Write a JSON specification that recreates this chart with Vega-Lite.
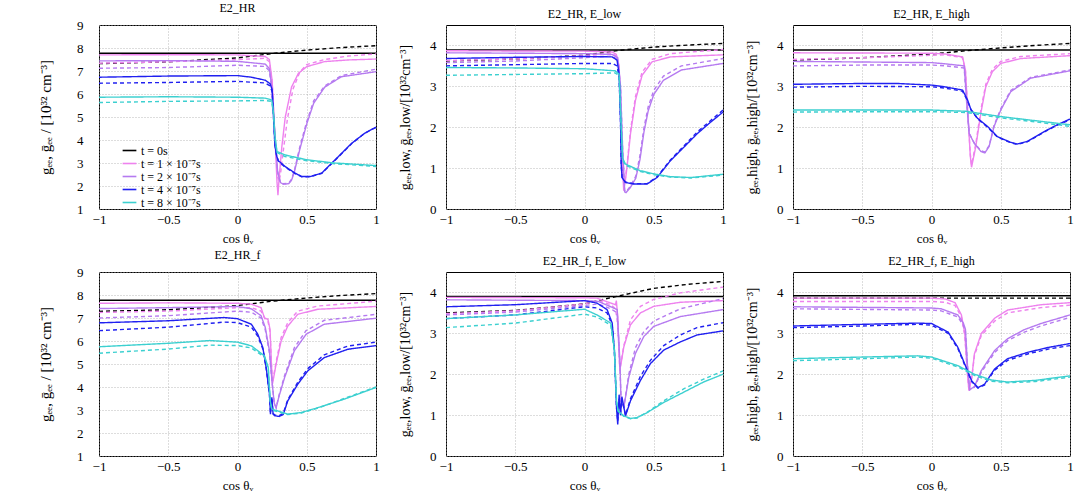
{
"$schema":"https://vega.github.io/schema/vega-lite/v6.json",
"padding":{"left":38,"top":1,"right":5,"bottom":2},
"config":{
"font":"Liberation Serif",
"view":{"stroke":"black","strokeWidth":1},
"axis":{"domain":false,"ticks":false,"grid":true,"labelFlush":false,"gridColor":"#aaaaaa","gridDash":[1,2],"gridWidth":0.8,"labelFont":"Liberation Serif","labelFontSize":13,"labelColor":"black","titleFont":"Liberation Serif","titleFontSize":14,"titleFontWeight":"normal","titleColor":"black"},
"axisX":{"labelPadding":4,"titlePadding":6,"titleFontSize":13},
"title":{"font":"Liberation Serif","fontSize":12,"fontWeight":"normal","offset":4,"color":"black"}
},
"data":{"values":[
{"p":1,"s":0,"k":"g","x":-1,"y":7.77},{"p":1,"s":0,"k":"g","x":1,"y":7.77},
{"p":1,"s":0,"k":"b","x":-1,"y":7.32},{"p":1,"s":0,"k":"b","x":-0.5,"y":7.4},{"p":1,"s":0,"k":"b","x":0,"y":7.57},{"p":1,"s":0,"k":"b","x":0.25,"y":7.76},{"p":1,"s":0,"k":"b","x":0.5,"y":7.91},{"p":1,"s":0,"k":"b","x":0.75,"y":8.02},{"p":1,"s":0,"k":"b","x":1,"y":8.1},
{"p":1,"s":1,"k":"g","x":-1,"y":7.7},{"p":1,"s":1,"k":"g","x":-0.5,"y":7.71},{"p":1,"s":1,"k":"g","x":0,"y":7.7},{"p":1,"s":1,"k":"g","x":0.2,"y":7.63},{"p":1,"s":1,"k":"g","x":0.23,"y":7.5},{"p":1,"s":1,"k":"g","x":0.25,"y":6.6},{"p":1,"s":1,"k":"g","x":0.27,"y":4.2},{"p":1,"s":1,"k":"g","x":0.285,"y":2.2},{"p":1,"s":1,"k":"g","x":0.292,"y":1.6},{"p":1,"s":1,"k":"g","x":0.3,"y":2.3},{"p":1,"s":1,"k":"g","x":0.32,"y":3.7},{"p":1,"s":1,"k":"g","x":0.345,"y":5.0},{"p":1,"s":1,"k":"g","x":0.39,"y":6.3},{"p":1,"s":1,"k":"g","x":0.44,"y":6.9},{"p":1,"s":1,"k":"g","x":0.5,"y":7.19},{"p":1,"s":1,"k":"g","x":0.63,"y":7.41},{"p":1,"s":1,"k":"g","x":0.8,"y":7.48},{"p":1,"s":1,"k":"g","x":1,"y":7.52},
{"p":1,"s":1,"k":"b","x":-1,"y":7.34},{"p":1,"s":1,"k":"b","x":-0.5,"y":7.4},{"p":1,"s":1,"k":"b","x":0,"y":7.5},{"p":1,"s":1,"k":"b","x":0.2,"y":7.55},{"p":1,"s":1,"k":"b","x":0.23,"y":7.4},{"p":1,"s":1,"k":"b","x":0.25,"y":6.5},{"p":1,"s":1,"k":"b","x":0.27,"y":4.2},{"p":1,"s":1,"k":"b","x":0.29,"y":2.4},{"p":1,"s":1,"k":"b","x":0.3,"y":2.2},{"p":1,"s":1,"k":"b","x":0.31,"y":2.5},{"p":1,"s":1,"k":"b","x":0.33,"y":3.5},{"p":1,"s":1,"k":"b","x":0.36,"y":4.9},{"p":1,"s":1,"k":"b","x":0.4,"y":6.2},{"p":1,"s":1,"k":"b","x":0.45,"y":6.95},{"p":1,"s":1,"k":"b","x":0.5,"y":7.28},{"p":1,"s":1,"k":"b","x":0.63,"y":7.5},{"p":1,"s":1,"k":"b","x":0.8,"y":7.65},{"p":1,"s":1,"k":"b","x":1,"y":7.74},
{"p":1,"s":2,"k":"g","x":-1,"y":7.44},{"p":1,"s":2,"k":"g","x":-0.5,"y":7.45},{"p":1,"s":2,"k":"g","x":0,"y":7.42},{"p":1,"s":2,"k":"g","x":0.2,"y":7.3},{"p":1,"s":2,"k":"g","x":0.23,"y":7.1},{"p":1,"s":2,"k":"g","x":0.25,"y":6.2},{"p":1,"s":2,"k":"g","x":0.27,"y":4.2},{"p":1,"s":2,"k":"g","x":0.29,"y":2.6},{"p":1,"s":2,"k":"g","x":0.31,"y":2.15},{"p":1,"s":2,"k":"g","x":0.33,"y":2.08},{"p":1,"s":2,"k":"g","x":0.37,"y":2.1},{"p":1,"s":2,"k":"g","x":0.39,"y":2.25},{"p":1,"s":2,"k":"g","x":0.41,"y":2.6},{"p":1,"s":2,"k":"g","x":0.45,"y":3.6},{"p":1,"s":2,"k":"g","x":0.5,"y":4.7},{"p":1,"s":2,"k":"g","x":0.55,"y":5.6},{"p":1,"s":2,"k":"g","x":0.63,"y":6.3},{"p":1,"s":2,"k":"g","x":0.75,"y":6.75},{"p":1,"s":2,"k":"g","x":1,"y":6.97},
{"p":1,"s":2,"k":"b","x":-1,"y":7.12},{"p":1,"s":2,"k":"b","x":-0.5,"y":7.15},{"p":1,"s":2,"k":"b","x":0,"y":7.25},{"p":1,"s":2,"k":"b","x":0.2,"y":7.2},{"p":1,"s":2,"k":"b","x":0.23,"y":7.0},{"p":1,"s":2,"k":"b","x":0.25,"y":6.1},{"p":1,"s":2,"k":"b","x":0.27,"y":4.1},{"p":1,"s":2,"k":"b","x":0.29,"y":2.6},{"p":1,"s":2,"k":"b","x":0.31,"y":2.15},{"p":1,"s":2,"k":"b","x":0.33,"y":2.1},{"p":1,"s":2,"k":"b","x":0.37,"y":2.12},{"p":1,"s":2,"k":"b","x":0.39,"y":2.3},{"p":1,"s":2,"k":"b","x":0.41,"y":2.65},{"p":1,"s":2,"k":"b","x":0.45,"y":3.7},{"p":1,"s":2,"k":"b","x":0.5,"y":4.8},{"p":1,"s":2,"k":"b","x":0.55,"y":5.7},{"p":1,"s":2,"k":"b","x":0.63,"y":6.35},{"p":1,"s":2,"k":"b","x":0.75,"y":6.8},{"p":1,"s":2,"k":"b","x":1,"y":7.08},
{"p":1,"s":4,"k":"g","x":-1,"y":6.73},{"p":1,"s":4,"k":"g","x":-0.5,"y":6.78},{"p":1,"s":4,"k":"g","x":0,"y":6.8},{"p":1,"s":4,"k":"g","x":0.1,"y":6.73},{"p":1,"s":4,"k":"g","x":0.2,"y":6.6},{"p":1,"s":4,"k":"g","x":0.235,"y":6.45},{"p":1,"s":4,"k":"g","x":0.25,"y":6.2},{"p":1,"s":4,"k":"g","x":0.26,"y":5.0},{"p":1,"s":4,"k":"g","x":0.27,"y":3.8},{"p":1,"s":4,"k":"g","x":0.283,"y":3.3},{"p":1,"s":4,"k":"g","x":0.295,"y":3.1},{"p":1,"s":4,"k":"g","x":0.343,"y":2.85},{"p":1,"s":4,"k":"g","x":0.416,"y":2.56},{"p":1,"s":4,"k":"g","x":0.464,"y":2.41},{"p":1,"s":4,"k":"g","x":0.524,"y":2.41},{"p":1,"s":4,"k":"g","x":0.608,"y":2.56},{"p":1,"s":4,"k":"g","x":0.705,"y":3.14},{"p":1,"s":4,"k":"g","x":0.825,"y":3.86},{"p":1,"s":4,"k":"g","x":0.92,"y":4.3},{"p":1,"s":4,"k":"g","x":1,"y":4.56},
{"p":1,"s":4,"k":"b","x":-1,"y":6.47},{"p":1,"s":4,"k":"b","x":-0.5,"y":6.5},{"p":1,"s":4,"k":"b","x":0,"y":6.55},{"p":1,"s":4,"k":"b","x":0.2,"y":6.48},{"p":1,"s":4,"k":"b","x":0.235,"y":6.35},{"p":1,"s":4,"k":"b","x":0.25,"y":6.1},{"p":1,"s":4,"k":"b","x":0.26,"y":5.0},{"p":1,"s":4,"k":"b","x":0.27,"y":3.8},{"p":1,"s":4,"k":"b","x":0.283,"y":3.3},{"p":1,"s":4,"k":"b","x":0.295,"y":3.08},{"p":1,"s":4,"k":"b","x":0.343,"y":2.82},{"p":1,"s":4,"k":"b","x":0.416,"y":2.54},{"p":1,"s":4,"k":"b","x":0.464,"y":2.4},{"p":1,"s":4,"k":"b","x":0.524,"y":2.4},{"p":1,"s":4,"k":"b","x":0.608,"y":2.55},{"p":1,"s":4,"k":"b","x":0.705,"y":3.12},{"p":1,"s":4,"k":"b","x":0.825,"y":3.85},{"p":1,"s":4,"k":"b","x":0.92,"y":4.3},{"p":1,"s":4,"k":"b","x":1,"y":4.55},
{"p":1,"s":8,"k":"g","x":-1,"y":5.86},{"p":1,"s":8,"k":"g","x":-0.5,"y":5.88},{"p":1,"s":8,"k":"g","x":0,"y":5.86},{"p":1,"s":8,"k":"g","x":0.2,"y":5.82},{"p":1,"s":8,"k":"g","x":0.247,"y":5.74},{"p":1,"s":8,"k":"g","x":0.26,"y":5.2},{"p":1,"s":8,"k":"g","x":0.27,"y":4.2},{"p":1,"s":8,"k":"g","x":0.285,"y":3.5},{"p":1,"s":8,"k":"g","x":0.343,"y":3.35},{"p":1,"s":8,"k":"g","x":0.5,"y":3.14},{"p":1,"s":8,"k":"g","x":0.7,"y":3.0},{"p":1,"s":8,"k":"g","x":1,"y":2.89},
{"p":1,"s":8,"k":"b","x":-1,"y":5.63},{"p":1,"s":8,"k":"b","x":-0.5,"y":5.68},{"p":1,"s":8,"k":"b","x":0,"y":5.7},{"p":1,"s":8,"k":"b","x":0.2,"y":5.72},{"p":1,"s":8,"k":"b","x":0.247,"y":5.68},{"p":1,"s":8,"k":"b","x":0.26,"y":5.1},{"p":1,"s":8,"k":"b","x":0.27,"y":4.1},{"p":1,"s":8,"k":"b","x":0.285,"y":3.45},{"p":1,"s":8,"k":"b","x":0.343,"y":3.28},{"p":1,"s":8,"k":"b","x":0.5,"y":3.1},{"p":1,"s":8,"k":"b","x":0.7,"y":2.97},{"p":1,"s":8,"k":"b","x":1,"y":2.85},

{"p":2,"s":0,"k":"g","x":-1,"y":3.89},{"p":2,"s":0,"k":"g","x":1,"y":3.89},
{"p":2,"s":0,"k":"b","x":-1,"y":3.62},{"p":2,"s":0,"k":"b","x":-0.5,"y":3.67},{"p":2,"s":0,"k":"b","x":0,"y":3.76},{"p":2,"s":0,"k":"b","x":0.25,"y":3.88},{"p":2,"s":0,"k":"b","x":0.5,"y":3.96},{"p":2,"s":0,"k":"b","x":0.75,"y":4.01},{"p":2,"s":0,"k":"b","x":1,"y":4.05},
{"p":2,"s":1,"k":"g","x":-1,"y":3.87},{"p":2,"s":1,"k":"g","x":0,"y":3.86},{"p":2,"s":1,"k":"g","x":0.2,"y":3.84},{"p":2,"s":1,"k":"g","x":0.23,"y":3.78},{"p":2,"s":1,"k":"g","x":0.25,"y":3.5},{"p":2,"s":1,"k":"g","x":0.265,"y":2.0},{"p":2,"s":1,"k":"g","x":0.278,"y":0.8},{"p":2,"s":1,"k":"g","x":0.283,"y":0.45},{"p":2,"s":1,"k":"g","x":0.295,"y":0.7},{"p":2,"s":1,"k":"g","x":0.307,"y":1.02},{"p":2,"s":1,"k":"g","x":0.332,"y":1.84},{"p":2,"s":1,"k":"g","x":0.368,"y":2.66},{"p":2,"s":1,"k":"g","x":0.416,"y":3.27},{"p":2,"s":1,"k":"g","x":0.488,"y":3.6},{"p":2,"s":1,"k":"g","x":0.62,"y":3.72},{"p":2,"s":1,"k":"g","x":1,"y":3.77},
{"p":2,"s":1,"k":"b","x":-1,"y":3.63},{"p":2,"s":1,"k":"b","x":-0.5,"y":3.67},{"p":2,"s":1,"k":"b","x":0,"y":3.75},{"p":2,"s":1,"k":"b","x":0.2,"y":3.8},{"p":2,"s":1,"k":"b","x":0.23,"y":3.74},{"p":2,"s":1,"k":"b","x":0.25,"y":3.45},{"p":2,"s":1,"k":"b","x":0.265,"y":2.0},{"p":2,"s":1,"k":"b","x":0.278,"y":0.85},{"p":2,"s":1,"k":"b","x":0.285,"y":0.55},{"p":2,"s":1,"k":"b","x":0.295,"y":0.75},{"p":2,"s":1,"k":"b","x":0.307,"y":1.08},{"p":2,"s":1,"k":"b","x":0.332,"y":1.92},{"p":2,"s":1,"k":"b","x":0.368,"y":2.75},{"p":2,"s":1,"k":"b","x":0.416,"y":3.35},{"p":2,"s":1,"k":"b","x":0.488,"y":3.66},{"p":2,"s":1,"k":"b","x":0.62,"y":3.8},{"p":2,"s":1,"k":"b","x":1,"y":3.9},
{"p":2,"s":2,"k":"g","x":-1,"y":3.82},{"p":2,"s":2,"k":"g","x":0,"y":3.8},{"p":2,"s":2,"k":"g","x":0.2,"y":3.78},{"p":2,"s":2,"k":"g","x":0.24,"y":3.7},{"p":2,"s":2,"k":"g","x":0.26,"y":3.0},{"p":2,"s":2,"k":"g","x":0.275,"y":1.5},{"p":2,"s":2,"k":"g","x":0.29,"y":0.42},{"p":2,"s":2,"k":"g","x":0.3,"y":0.4},{"p":2,"s":2,"k":"g","x":0.33,"y":0.52},{"p":2,"s":2,"k":"g","x":0.37,"y":0.75},{"p":2,"s":2,"k":"g","x":0.4,"y":1.2},{"p":2,"s":2,"k":"g","x":0.43,"y":1.9},{"p":2,"s":2,"k":"g","x":0.46,"y":2.4},{"p":2,"s":2,"k":"g","x":0.5,"y":2.8},{"p":2,"s":2,"k":"g","x":0.57,"y":3.15},{"p":2,"s":2,"k":"g","x":0.7,"y":3.4},{"p":2,"s":2,"k":"g","x":1,"y":3.56},
{"p":2,"s":2,"k":"b","x":-1,"y":3.58},{"p":2,"s":2,"k":"b","x":-0.5,"y":3.62},{"p":2,"s":2,"k":"b","x":0,"y":3.7},{"p":2,"s":2,"k":"b","x":0.2,"y":3.74},{"p":2,"s":2,"k":"b","x":0.24,"y":3.65},{"p":2,"s":2,"k":"b","x":0.26,"y":3.0},{"p":2,"s":2,"k":"b","x":0.275,"y":1.5},{"p":2,"s":2,"k":"b","x":0.29,"y":0.45},{"p":2,"s":2,"k":"b","x":0.3,"y":0.42},{"p":2,"s":2,"k":"b","x":0.33,"y":0.55},{"p":2,"s":2,"k":"b","x":0.37,"y":0.8},{"p":2,"s":2,"k":"b","x":0.4,"y":1.3},{"p":2,"s":2,"k":"b","x":0.43,"y":2.0},{"p":2,"s":2,"k":"b","x":0.46,"y":2.5},{"p":2,"s":2,"k":"b","x":0.5,"y":2.9},{"p":2,"s":2,"k":"b","x":0.57,"y":3.25},{"p":2,"s":2,"k":"b","x":0.7,"y":3.5},{"p":2,"s":2,"k":"b","x":1,"y":3.68},
{"p":2,"s":4,"k":"g","x":-1,"y":3.68},{"p":2,"s":4,"k":"g","x":-0.5,"y":3.71},{"p":2,"s":4,"k":"g","x":0,"y":3.73},{"p":2,"s":4,"k":"g","x":0.2,"y":3.72},{"p":2,"s":4,"k":"g","x":0.235,"y":3.64},{"p":2,"s":4,"k":"g","x":0.25,"y":3.3},{"p":2,"s":4,"k":"g","x":0.26,"y":2.17},{"p":2,"s":4,"k":"g","x":0.265,"y":1.1},{"p":2,"s":4,"k":"g","x":0.271,"y":0.77},{"p":2,"s":4,"k":"g","x":0.295,"y":0.65},{"p":2,"s":4,"k":"g","x":0.356,"y":0.61},{"p":2,"s":4,"k":"g","x":0.452,"y":0.61},{"p":2,"s":4,"k":"g","x":0.524,"y":0.77},{"p":2,"s":4,"k":"g","x":0.62,"y":1.18},{"p":2,"s":4,"k":"g","x":0.717,"y":1.51},{"p":2,"s":4,"k":"g","x":0.813,"y":1.84},{"p":2,"s":4,"k":"g","x":0.909,"y":2.12},{"p":2,"s":4,"k":"g","x":1,"y":2.37},
{"p":2,"s":4,"k":"b","x":-1,"y":3.5},{"p":2,"s":4,"k":"b","x":-0.5,"y":3.53},{"p":2,"s":4,"k":"b","x":0,"y":3.56},{"p":2,"s":4,"k":"b","x":0.2,"y":3.56},{"p":2,"s":4,"k":"b","x":0.235,"y":3.5},{"p":2,"s":4,"k":"b","x":0.25,"y":3.2},{"p":2,"s":4,"k":"b","x":0.26,"y":2.15},{"p":2,"s":4,"k":"b","x":0.265,"y":1.1},{"p":2,"s":4,"k":"b","x":0.271,"y":0.78},{"p":2,"s":4,"k":"b","x":0.295,"y":0.66},{"p":2,"s":4,"k":"b","x":0.356,"y":0.62},{"p":2,"s":4,"k":"b","x":0.452,"y":0.62},{"p":2,"s":4,"k":"b","x":0.524,"y":0.79},{"p":2,"s":4,"k":"b","x":0.62,"y":1.2},{"p":2,"s":4,"k":"b","x":0.717,"y":1.54},{"p":2,"s":4,"k":"b","x":0.813,"y":1.88},{"p":2,"s":4,"k":"b","x":0.909,"y":2.16},{"p":2,"s":4,"k":"b","x":1,"y":2.42},
{"p":2,"s":8,"k":"g","x":-1,"y":3.46},{"p":2,"s":8,"k":"g","x":-0.5,"y":3.45},{"p":2,"s":8,"k":"g","x":0,"y":3.43},{"p":2,"s":8,"k":"g","x":0.22,"y":3.38},{"p":2,"s":8,"k":"g","x":0.25,"y":3.3},{"p":2,"s":8,"k":"g","x":0.265,"y":2.0},{"p":2,"s":8,"k":"g","x":0.275,"y":1.25},{"p":2,"s":8,"k":"g","x":0.295,"y":1.1},{"p":2,"s":8,"k":"g","x":0.4,"y":0.94},{"p":2,"s":8,"k":"g","x":0.5,"y":0.86},{"p":2,"s":8,"k":"g","x":0.62,"y":0.79},{"p":2,"s":8,"k":"g","x":0.77,"y":0.77},{"p":2,"s":8,"k":"g","x":1,"y":0.85},
{"p":2,"s":8,"k":"b","x":-1,"y":3.27},{"p":2,"s":8,"k":"b","x":-0.5,"y":3.29},{"p":2,"s":8,"k":"b","x":0,"y":3.31},{"p":2,"s":8,"k":"b","x":0.22,"y":3.33},{"p":2,"s":8,"k":"b","x":0.25,"y":3.26},{"p":2,"s":8,"k":"b","x":0.265,"y":2.0},{"p":2,"s":8,"k":"b","x":0.275,"y":1.2},{"p":2,"s":8,"k":"b","x":0.295,"y":1.07},{"p":2,"s":8,"k":"b","x":0.4,"y":0.92},{"p":2,"s":8,"k":"b","x":0.5,"y":0.84},{"p":2,"s":8,"k":"b","x":0.62,"y":0.78},{"p":2,"s":8,"k":"b","x":0.77,"y":0.76},{"p":2,"s":8,"k":"b","x":1,"y":0.83},

{"p":3,"s":0,"k":"g","x":-1,"y":3.89},{"p":3,"s":0,"k":"g","x":1,"y":3.89},
{"p":3,"s":0,"k":"b","x":-1,"y":3.64},{"p":3,"s":0,"k":"b","x":-0.5,"y":3.7},{"p":3,"s":0,"k":"b","x":0,"y":3.79},{"p":3,"s":0,"k":"b","x":0.25,"y":3.87},{"p":3,"s":0,"k":"b","x":0.5,"y":3.94},{"p":3,"s":0,"k":"b","x":0.75,"y":4.0},{"p":3,"s":0,"k":"b","x":1,"y":4.05},
{"p":3,"s":1,"k":"g","x":-1,"y":3.82},{"p":3,"s":1,"k":"g","x":0,"y":3.81},{"p":3,"s":1,"k":"g","x":0.1,"y":3.79},{"p":3,"s":1,"k":"g","x":0.224,"y":3.72},{"p":3,"s":1,"k":"g","x":0.245,"y":3.4},{"p":3,"s":1,"k":"g","x":0.265,"y":2.2},{"p":3,"s":1,"k":"g","x":0.28,"y":1.3},{"p":3,"s":1,"k":"g","x":0.289,"y":1.02},{"p":3,"s":1,"k":"g","x":0.32,"y":1.53},{"p":3,"s":1,"k":"g","x":0.356,"y":2.34},{"p":3,"s":1,"k":"g","x":0.392,"y":2.99},{"p":3,"s":1,"k":"g","x":0.44,"y":3.36},{"p":3,"s":1,"k":"g","x":0.5,"y":3.56},{"p":3,"s":1,"k":"g","x":0.644,"y":3.68},{"p":3,"s":1,"k":"g","x":1,"y":3.75},
{"p":3,"s":1,"k":"b","x":-1,"y":3.66},{"p":3,"s":1,"k":"b","x":-0.5,"y":3.7},{"p":3,"s":1,"k":"b","x":0,"y":3.76},{"p":3,"s":1,"k":"b","x":0.1,"y":3.77},{"p":3,"s":1,"k":"b","x":0.224,"y":3.7},{"p":3,"s":1,"k":"b","x":0.245,"y":3.38},{"p":3,"s":1,"k":"b","x":0.265,"y":2.2},{"p":3,"s":1,"k":"b","x":0.28,"y":1.35},{"p":3,"s":1,"k":"b","x":0.289,"y":1.08},{"p":3,"s":1,"k":"b","x":0.32,"y":1.6},{"p":3,"s":1,"k":"b","x":0.356,"y":2.42},{"p":3,"s":1,"k":"b","x":0.392,"y":3.05},{"p":3,"s":1,"k":"b","x":0.44,"y":3.42},{"p":3,"s":1,"k":"b","x":0.5,"y":3.61},{"p":3,"s":1,"k":"b","x":0.644,"y":3.73},{"p":3,"s":1,"k":"b","x":1,"y":3.8},
{"p":3,"s":2,"k":"g","x":-1,"y":3.61},{"p":3,"s":2,"k":"g","x":0,"y":3.58},{"p":3,"s":2,"k":"g","x":0.1,"y":3.55},{"p":3,"s":2,"k":"g","x":0.236,"y":3.5},{"p":3,"s":2,"k":"g","x":0.255,"y":2.59},{"p":3,"s":2,"k":"g","x":0.272,"y":1.85},{"p":3,"s":2,"k":"g","x":0.308,"y":1.61},{"p":3,"s":2,"k":"g","x":0.356,"y":1.41},{"p":3,"s":2,"k":"g","x":0.385,"y":1.37},{"p":3,"s":2,"k":"g","x":0.416,"y":1.53},{"p":3,"s":2,"k":"g","x":0.452,"y":2.02},{"p":3,"s":2,"k":"g","x":0.5,"y":2.42},{"p":3,"s":2,"k":"g","x":0.572,"y":2.87},{"p":3,"s":2,"k":"g","x":0.716,"y":3.2},{"p":3,"s":2,"k":"g","x":1,"y":3.38},
{"p":3,"s":2,"k":"b","x":-1,"y":3.5},{"p":3,"s":2,"k":"b","x":-0.5,"y":3.52},{"p":3,"s":2,"k":"b","x":0,"y":3.52},{"p":3,"s":2,"k":"b","x":0.1,"y":3.5},{"p":3,"s":2,"k":"b","x":0.236,"y":3.45},{"p":3,"s":2,"k":"b","x":0.255,"y":2.55},{"p":3,"s":2,"k":"b","x":0.272,"y":1.85},{"p":3,"s":2,"k":"b","x":0.308,"y":1.62},{"p":3,"s":2,"k":"b","x":0.356,"y":1.43},{"p":3,"s":2,"k":"b","x":0.385,"y":1.39},{"p":3,"s":2,"k":"b","x":0.416,"y":1.55},{"p":3,"s":2,"k":"b","x":0.452,"y":2.05},{"p":3,"s":2,"k":"b","x":0.5,"y":2.45},{"p":3,"s":2,"k":"b","x":0.572,"y":2.9},{"p":3,"s":2,"k":"b","x":0.716,"y":3.22},{"p":3,"s":2,"k":"b","x":1,"y":3.4},
{"p":3,"s":4,"k":"g","x":-1,"y":3.05},{"p":3,"s":4,"k":"g","x":-0.5,"y":3.07},{"p":3,"s":4,"k":"g","x":-0.25,"y":3.07},{"p":3,"s":4,"k":"g","x":0,"y":3.03},{"p":3,"s":4,"k":"g","x":0.092,"y":2.99},{"p":3,"s":4,"k":"g","x":0.224,"y":2.91},{"p":3,"s":4,"k":"g","x":0.26,"y":2.67},{"p":3,"s":4,"k":"g","x":0.284,"y":2.44},{"p":3,"s":4,"k":"g","x":0.332,"y":2.22},{"p":3,"s":4,"k":"g","x":0.404,"y":2.02},{"p":3,"s":4,"k":"g","x":0.476,"y":1.77},{"p":3,"s":4,"k":"g","x":0.572,"y":1.63},{"p":3,"s":4,"k":"g","x":0.62,"y":1.59},{"p":3,"s":4,"k":"g","x":0.69,"y":1.65},{"p":3,"s":4,"k":"g","x":0.812,"y":1.89},{"p":3,"s":4,"k":"g","x":0.908,"y":2.06},{"p":3,"s":4,"k":"g","x":1,"y":2.2},
{"p":3,"s":4,"k":"b","x":-1,"y":2.98},{"p":3,"s":4,"k":"b","x":-0.5,"y":3.0},{"p":3,"s":4,"k":"b","x":0,"y":2.99},{"p":3,"s":4,"k":"b","x":0.092,"y":2.96},{"p":3,"s":4,"k":"b","x":0.224,"y":2.88},{"p":3,"s":4,"k":"b","x":0.26,"y":2.65},{"p":3,"s":4,"k":"b","x":0.284,"y":2.43},{"p":3,"s":4,"k":"b","x":0.332,"y":2.21},{"p":3,"s":4,"k":"b","x":0.404,"y":2.0},{"p":3,"s":4,"k":"b","x":0.476,"y":1.76},{"p":3,"s":4,"k":"b","x":0.572,"y":1.62},{"p":3,"s":4,"k":"b","x":0.62,"y":1.58},{"p":3,"s":4,"k":"b","x":0.69,"y":1.64},{"p":3,"s":4,"k":"b","x":0.812,"y":1.88},{"p":3,"s":4,"k":"b","x":0.908,"y":2.05},{"p":3,"s":4,"k":"b","x":1,"y":2.18},
{"p":3,"s":8,"k":"g","x":-1,"y":2.42},{"p":3,"s":8,"k":"g","x":-0.5,"y":2.42},{"p":3,"s":8,"k":"g","x":0,"y":2.42},{"p":3,"s":8,"k":"g","x":0.25,"y":2.39},{"p":3,"s":8,"k":"g","x":0.5,"y":2.26},{"p":3,"s":8,"k":"g","x":0.75,"y":2.16},{"p":3,"s":8,"k":"g","x":1,"y":2.06},
{"p":3,"s":8,"k":"b","x":-1,"y":2.37},{"p":3,"s":8,"k":"b","x":-0.5,"y":2.38},{"p":3,"s":8,"k":"b","x":0,"y":2.38},{"p":3,"s":8,"k":"b","x":0.25,"y":2.36},{"p":3,"s":8,"k":"b","x":0.5,"y":2.23},{"p":3,"s":8,"k":"b","x":0.75,"y":2.13},{"p":3,"s":8,"k":"b","x":1,"y":2.02},

{"p":4,"s":0,"k":"g","x":-1,"y":7.77},{"p":4,"s":0,"k":"g","x":1,"y":7.77},
{"p":4,"s":0,"k":"b","x":-1,"y":7.29},{"p":4,"s":0,"k":"b","x":-0.5,"y":7.36},{"p":4,"s":0,"k":"b","x":0,"y":7.54},{"p":4,"s":0,"k":"b","x":0.25,"y":7.73},{"p":4,"s":0,"k":"b","x":0.5,"y":7.87},{"p":4,"s":0,"k":"b","x":0.75,"y":7.98},{"p":4,"s":0,"k":"b","x":1,"y":8.06},
{"p":4,"s":1,"k":"g","x":-1,"y":7.64},{"p":4,"s":1,"k":"g","x":-0.5,"y":7.66},{"p":4,"s":1,"k":"g","x":0,"y":7.64},{"p":4,"s":1,"k":"g","x":0.1,"y":7.6},{"p":4,"s":1,"k":"g","x":0.17,"y":7.45},{"p":4,"s":1,"k":"g","x":0.195,"y":7.0},{"p":4,"s":1,"k":"g","x":0.22,"y":6.94},{"p":4,"s":1,"k":"g","x":0.235,"y":6.5},{"p":4,"s":1,"k":"g","x":0.245,"y":5.0},{"p":4,"s":1,"k":"g","x":0.252,"y":4.12},{"p":4,"s":1,"k":"g","x":0.279,"y":5.0},{"p":4,"s":1,"k":"g","x":0.315,"y":6.0},{"p":4,"s":1,"k":"g","x":0.363,"y":6.65},{"p":4,"s":1,"k":"g","x":0.435,"y":7.16},{"p":4,"s":1,"k":"g","x":0.58,"y":7.38},{"p":4,"s":1,"k":"g","x":1,"y":7.5},
{"p":4,"s":1,"k":"b","x":-1,"y":7.24},{"p":4,"s":1,"k":"b","x":-0.5,"y":7.3},{"p":4,"s":1,"k":"b","x":0,"y":7.45},{"p":4,"s":1,"k":"b","x":0.1,"y":7.45},{"p":4,"s":1,"k":"b","x":0.17,"y":7.3},{"p":4,"s":1,"k":"b","x":0.2,"y":6.95},{"p":4,"s":1,"k":"b","x":0.22,"y":6.85},{"p":4,"s":1,"k":"b","x":0.235,"y":6.4},{"p":4,"s":1,"k":"b","x":0.245,"y":5.0},{"p":4,"s":1,"k":"b","x":0.253,"y":4.2},{"p":4,"s":1,"k":"b","x":0.279,"y":5.1},{"p":4,"s":1,"k":"b","x":0.315,"y":6.15},{"p":4,"s":1,"k":"b","x":0.363,"y":6.8},{"p":4,"s":1,"k":"b","x":0.435,"y":7.3},{"p":4,"s":1,"k":"b","x":0.58,"y":7.52},{"p":4,"s":1,"k":"b","x":1,"y":7.73},
{"p":4,"s":2,"k":"g","x":-1,"y":7.41},{"p":4,"s":2,"k":"g","x":-0.5,"y":7.45},{"p":4,"s":2,"k":"g","x":0,"y":7.5},{"p":4,"s":2,"k":"g","x":0.1,"y":7.4},{"p":4,"s":2,"k":"g","x":0.17,"y":7.1},{"p":4,"s":2,"k":"g","x":0.2,"y":6.6},{"p":4,"s":2,"k":"g","x":0.23,"y":5.6},{"p":4,"s":2,"k":"g","x":0.25,"y":4.2},{"p":4,"s":2,"k":"g","x":0.265,"y":3.3},{"p":4,"s":2,"k":"g","x":0.279,"y":3.1},{"p":4,"s":2,"k":"g","x":0.3,"y":3.6},{"p":4,"s":2,"k":"g","x":0.34,"y":4.41},{"p":4,"s":2,"k":"g","x":0.41,"y":5.57},{"p":4,"s":2,"k":"g","x":0.495,"y":6.29},{"p":4,"s":2,"k":"g","x":0.627,"y":6.73},{"p":4,"s":2,"k":"g","x":1,"y":6.99},
{"p":4,"s":2,"k":"b","x":-1,"y":7.0},{"p":4,"s":2,"k":"b","x":-0.5,"y":7.1},{"p":4,"s":2,"k":"b","x":0,"y":7.3},{"p":4,"s":2,"k":"b","x":0.1,"y":7.25},{"p":4,"s":2,"k":"b","x":0.17,"y":7.0},{"p":4,"s":2,"k":"b","x":0.2,"y":6.5},{"p":4,"s":2,"k":"b","x":0.23,"y":5.5},{"p":4,"s":2,"k":"b","x":0.25,"y":4.2},{"p":4,"s":2,"k":"b","x":0.265,"y":3.3},{"p":4,"s":2,"k":"b","x":0.279,"y":3.1},{"p":4,"s":2,"k":"b","x":0.3,"y":3.65},{"p":4,"s":2,"k":"b","x":0.34,"y":4.5},{"p":4,"s":2,"k":"b","x":0.41,"y":5.7},{"p":4,"s":2,"k":"b","x":0.495,"y":6.45},{"p":4,"s":2,"k":"b","x":0.627,"y":6.9},{"p":4,"s":2,"k":"b","x":1,"y":7.16},
{"p":4,"s":4,"k":"g","x":-1,"y":6.79},{"p":4,"s":4,"k":"g","x":-0.5,"y":6.88},{"p":4,"s":4,"k":"g","x":-0.1,"y":7.02},{"p":4,"s":4,"k":"g","x":0,"y":6.97},{"p":4,"s":4,"k":"g","x":0.1,"y":6.73},{"p":4,"s":4,"k":"g","x":0.147,"y":6.29},{"p":4,"s":4,"k":"g","x":0.183,"y":5.71},{"p":4,"s":4,"k":"g","x":0.207,"y":4.85},{"p":4,"s":4,"k":"g","x":0.231,"y":3.69},{"p":4,"s":4,"k":"g","x":0.238,"y":2.82},{"p":4,"s":4,"k":"g","x":0.248,"y":3.55},{"p":4,"s":4,"k":"g","x":0.257,"y":2.82},{"p":4,"s":4,"k":"g","x":0.27,"y":2.75},{"p":4,"s":4,"k":"g","x":0.3,"y":2.72},{"p":4,"s":4,"k":"g","x":0.33,"y":2.8},{"p":4,"s":4,"k":"g","x":0.363,"y":3.4},{"p":4,"s":4,"k":"g","x":0.435,"y":4.12},{"p":4,"s":4,"k":"g","x":0.507,"y":4.7},{"p":4,"s":4,"k":"g","x":0.627,"y":5.28},{"p":4,"s":4,"k":"g","x":0.796,"y":5.64},{"p":4,"s":4,"k":"g","x":1,"y":5.8},
{"p":4,"s":4,"k":"b","x":-1,"y":6.45},{"p":4,"s":4,"k":"b","x":-0.5,"y":6.6},{"p":4,"s":4,"k":"b","x":-0.1,"y":6.82},{"p":4,"s":4,"k":"b","x":0,"y":6.8},{"p":4,"s":4,"k":"b","x":0.1,"y":6.6},{"p":4,"s":4,"k":"b","x":0.147,"y":6.2},{"p":4,"s":4,"k":"b","x":0.183,"y":5.65},{"p":4,"s":4,"k":"b","x":0.207,"y":4.8},{"p":4,"s":4,"k":"b","x":0.231,"y":3.65},{"p":4,"s":4,"k":"b","x":0.238,"y":2.85},{"p":4,"s":4,"k":"b","x":0.248,"y":3.5},{"p":4,"s":4,"k":"b","x":0.257,"y":2.85},{"p":4,"s":4,"k":"b","x":0.27,"y":2.78},{"p":4,"s":4,"k":"b","x":0.3,"y":2.75},{"p":4,"s":4,"k":"b","x":0.33,"y":2.85},{"p":4,"s":4,"k":"b","x":0.363,"y":3.45},{"p":4,"s":4,"k":"b","x":0.435,"y":4.2},{"p":4,"s":4,"k":"b","x":0.507,"y":4.8},{"p":4,"s":4,"k":"b","x":0.627,"y":5.4},{"p":4,"s":4,"k":"b","x":0.796,"y":5.78},{"p":4,"s":4,"k":"b","x":1,"y":5.95},
{"p":4,"s":8,"k":"g","x":-1,"y":5.75},{"p":4,"s":8,"k":"g","x":-0.5,"y":5.9},{"p":4,"s":8,"k":"g","x":-0.2,"y":6.02},{"p":4,"s":8,"k":"g","x":0,"y":5.95},{"p":4,"s":8,"k":"g","x":0.1,"y":5.79},{"p":4,"s":8,"k":"g","x":0.195,"y":5.35},{"p":4,"s":8,"k":"g","x":0.222,"y":4.85},{"p":4,"s":8,"k":"g","x":0.236,"y":3.4},{"p":4,"s":8,"k":"g","x":0.248,"y":3.04},{"p":4,"s":8,"k":"g","x":0.29,"y":2.96},{"p":4,"s":8,"k":"g","x":0.363,"y":2.82},{"p":4,"s":8,"k":"g","x":0.46,"y":2.89},{"p":4,"s":8,"k":"g","x":0.58,"y":3.1},{"p":4,"s":8,"k":"g","x":0.77,"y":3.47},{"p":4,"s":8,"k":"g","x":1,"y":3.98},
{"p":4,"s":8,"k":"b","x":-1,"y":5.47},{"p":4,"s":8,"k":"b","x":-0.5,"y":5.65},{"p":4,"s":8,"k":"b","x":-0.2,"y":5.82},{"p":4,"s":8,"k":"b","x":0,"y":5.8},{"p":4,"s":8,"k":"b","x":0.1,"y":5.7},{"p":4,"s":8,"k":"b","x":0.195,"y":5.3},{"p":4,"s":8,"k":"b","x":0.222,"y":4.8},{"p":4,"s":8,"k":"b","x":0.236,"y":3.4},{"p":4,"s":8,"k":"b","x":0.248,"y":3.0},{"p":4,"s":8,"k":"b","x":0.29,"y":2.92},{"p":4,"s":8,"k":"b","x":0.363,"y":2.8},{"p":4,"s":8,"k":"b","x":0.46,"y":2.87},{"p":4,"s":8,"k":"b","x":0.58,"y":3.08},{"p":4,"s":8,"k":"b","x":0.77,"y":3.5},{"p":4,"s":8,"k":"b","x":1,"y":4.0},

{"p":5,"s":0,"k":"g","x":-1,"y":3.9},{"p":5,"s":0,"k":"g","x":1,"y":3.9},
{"p":5,"s":0,"k":"b","x":-1,"y":3.5},{"p":5,"s":0,"k":"b","x":-0.5,"y":3.56},{"p":5,"s":0,"k":"b","x":0,"y":3.72},{"p":5,"s":0,"k":"b","x":0.2,"y":3.88},{"p":5,"s":0,"k":"b","x":0.5,"y":4.1},{"p":5,"s":0,"k":"b","x":0.75,"y":4.2},{"p":5,"s":0,"k":"b","x":1,"y":4.27},
{"p":5,"s":1,"k":"g","x":-1,"y":3.88},{"p":5,"s":1,"k":"g","x":0,"y":3.87},{"p":5,"s":1,"k":"g","x":0.09,"y":3.86},{"p":5,"s":1,"k":"g","x":0.19,"y":3.74},{"p":5,"s":1,"k":"g","x":0.224,"y":3.7},{"p":5,"s":1,"k":"g","x":0.23,"y":3.8},{"p":5,"s":1,"k":"g","x":0.24,"y":3.41},{"p":5,"s":1,"k":"g","x":0.255,"y":2.09},{"p":5,"s":1,"k":"g","x":0.284,"y":2.67},{"p":5,"s":1,"k":"g","x":0.332,"y":3.21},{"p":5,"s":1,"k":"g","x":0.404,"y":3.5},{"p":5,"s":1,"k":"g","x":0.5,"y":3.66},{"p":5,"s":1,"k":"g","x":0.692,"y":3.76},{"p":5,"s":1,"k":"g","x":1,"y":3.8},
{"p":5,"s":1,"k":"b","x":-1,"y":3.48},{"p":5,"s":1,"k":"b","x":-0.5,"y":3.55},{"p":5,"s":1,"k":"b","x":0,"y":3.72},{"p":5,"s":1,"k":"b","x":0.1,"y":3.8},{"p":5,"s":1,"k":"b","x":0.19,"y":3.7},{"p":5,"s":1,"k":"b","x":0.224,"y":3.6},{"p":5,"s":1,"k":"b","x":0.24,"y":3.2},{"p":5,"s":1,"k":"b","x":0.255,"y":2.1},{"p":5,"s":1,"k":"b","x":0.284,"y":2.7},{"p":5,"s":1,"k":"b","x":0.332,"y":3.33},{"p":5,"s":1,"k":"b","x":0.404,"y":3.66},{"p":5,"s":1,"k":"b","x":0.5,"y":3.83},{"p":5,"s":1,"k":"b","x":0.692,"y":3.99},{"p":5,"s":1,"k":"b","x":1,"y":4.13},
{"p":5,"s":2,"k":"g","x":-1,"y":3.82},{"p":5,"s":2,"k":"g","x":0,"y":3.8},{"p":5,"s":2,"k":"g","x":0.1,"y":3.78},{"p":5,"s":2,"k":"g","x":0.19,"y":3.65},{"p":5,"s":2,"k":"g","x":0.236,"y":3.58},{"p":5,"s":2,"k":"g","x":0.255,"y":2.34},{"p":5,"s":2,"k":"g","x":0.264,"y":1.35},{"p":5,"s":2,"k":"g","x":0.284,"y":1.19},{"p":5,"s":2,"k":"g","x":0.32,"y":1.93},{"p":5,"s":2,"k":"g","x":0.368,"y":2.51},{"p":5,"s":2,"k":"g","x":0.428,"y":2.92},{"p":5,"s":2,"k":"g","x":0.5,"y":3.17},{"p":5,"s":2,"k":"g","x":0.692,"y":3.41},{"p":5,"s":2,"k":"g","x":1,"y":3.58},
{"p":5,"s":2,"k":"b","x":-1,"y":3.45},{"p":5,"s":2,"k":"b","x":-0.5,"y":3.52},{"p":5,"s":2,"k":"b","x":0,"y":3.68},{"p":5,"s":2,"k":"b","x":0.1,"y":3.72},{"p":5,"s":2,"k":"b","x":0.19,"y":3.6},{"p":5,"s":2,"k":"b","x":0.236,"y":3.5},{"p":5,"s":2,"k":"b","x":0.255,"y":2.3},{"p":5,"s":2,"k":"b","x":0.264,"y":1.35},{"p":5,"s":2,"k":"b","x":0.284,"y":1.2},{"p":5,"s":2,"k":"b","x":0.32,"y":2.0},{"p":5,"s":2,"k":"b","x":0.368,"y":2.65},{"p":5,"s":2,"k":"b","x":0.428,"y":3.04},{"p":5,"s":2,"k":"b","x":0.5,"y":3.3},{"p":5,"s":2,"k":"b","x":0.692,"y":3.6},{"p":5,"s":2,"k":"b","x":1,"y":3.85},
{"p":5,"s":4,"k":"g","x":-1,"y":3.65},{"p":5,"s":4,"k":"g","x":-0.5,"y":3.7},{"p":5,"s":4,"k":"g","x":0,"y":3.8},{"p":5,"s":4,"k":"g","x":0.09,"y":3.74},{"p":5,"s":4,"k":"g","x":0.163,"y":3.58},{"p":5,"s":4,"k":"g","x":0.2,"y":3.25},{"p":5,"s":4,"k":"g","x":0.216,"y":2.59},{"p":5,"s":4,"k":"g","x":0.231,"y":1.19},{"p":5,"s":4,"k":"g","x":0.24,"y":0.77},{"p":5,"s":4,"k":"g","x":0.25,"y":1.5},{"p":5,"s":4,"k":"g","x":0.26,"y":1.0},{"p":5,"s":4,"k":"g","x":0.27,"y":1.45},{"p":5,"s":4,"k":"g","x":0.296,"y":0.98},{"p":5,"s":4,"k":"g","x":0.332,"y":1.35},{"p":5,"s":4,"k":"g","x":0.404,"y":1.85},{"p":5,"s":4,"k":"g","x":0.476,"y":2.26},{"p":5,"s":4,"k":"g","x":0.572,"y":2.59},{"p":5,"s":4,"k":"g","x":0.692,"y":2.79},{"p":5,"s":4,"k":"g","x":0.812,"y":2.96},{"p":5,"s":4,"k":"g","x":1,"y":3.06},
{"p":5,"s":4,"k":"b","x":-1,"y":3.36},{"p":5,"s":4,"k":"b","x":-0.5,"y":3.45},{"p":5,"s":4,"k":"b","x":0,"y":3.65},{"p":5,"s":4,"k":"b","x":0.09,"y":3.62},{"p":5,"s":4,"k":"b","x":0.163,"y":3.5},{"p":5,"s":4,"k":"b","x":0.2,"y":3.2},{"p":5,"s":4,"k":"b","x":0.216,"y":2.55},{"p":5,"s":4,"k":"b","x":0.231,"y":1.2},{"p":5,"s":4,"k":"b","x":0.24,"y":0.85},{"p":5,"s":4,"k":"b","x":0.25,"y":1.4},{"p":5,"s":4,"k":"b","x":0.26,"y":1.05},{"p":5,"s":4,"k":"b","x":0.27,"y":1.4},{"p":5,"s":4,"k":"b","x":0.296,"y":1.0},{"p":5,"s":4,"k":"b","x":0.332,"y":1.4},{"p":5,"s":4,"k":"b","x":0.404,"y":1.95},{"p":5,"s":4,"k":"b","x":0.476,"y":2.34},{"p":5,"s":4,"k":"b","x":0.572,"y":2.7},{"p":5,"s":4,"k":"b","x":0.692,"y":2.96},{"p":5,"s":4,"k":"b","x":0.812,"y":3.14},{"p":5,"s":4,"k":"b","x":1,"y":3.26},
{"p":5,"s":8,"k":"g","x":-1,"y":3.36},{"p":5,"s":8,"k":"g","x":-0.5,"y":3.45},{"p":5,"s":8,"k":"g","x":0,"y":3.59},{"p":5,"s":8,"k":"g","x":0.09,"y":3.45},{"p":5,"s":8,"k":"g","x":0.19,"y":3.25},{"p":5,"s":8,"k":"g","x":0.216,"y":2.59},{"p":5,"s":8,"k":"g","x":0.231,"y":1.35},{"p":5,"s":8,"k":"g","x":0.243,"y":1.1},{"p":5,"s":8,"k":"g","x":0.284,"y":0.98},{"p":5,"s":8,"k":"g","x":0.332,"y":0.92},{"p":5,"s":8,"k":"g","x":0.38,"y":0.94},{"p":5,"s":8,"k":"g","x":0.452,"y":1.06},{"p":5,"s":8,"k":"g","x":0.572,"y":1.31},{"p":5,"s":8,"k":"g","x":0.716,"y":1.56},{"p":5,"s":8,"k":"g","x":0.86,"y":1.81},{"p":5,"s":8,"k":"g","x":1,"y":2.0},
{"p":5,"s":8,"k":"b","x":-1,"y":3.14},{"p":5,"s":8,"k":"b","x":-0.5,"y":3.25},{"p":5,"s":8,"k":"b","x":0,"y":3.47},{"p":5,"s":8,"k":"b","x":0.09,"y":3.4},{"p":5,"s":8,"k":"b","x":0.19,"y":3.2},{"p":5,"s":8,"k":"b","x":0.216,"y":2.55},{"p":5,"s":8,"k":"b","x":0.231,"y":1.35},{"p":5,"s":8,"k":"b","x":0.243,"y":1.1},{"p":5,"s":8,"k":"b","x":0.284,"y":0.97},{"p":5,"s":8,"k":"b","x":0.332,"y":0.91},{"p":5,"s":8,"k":"b","x":0.38,"y":0.93},{"p":5,"s":8,"k":"b","x":0.452,"y":1.07},{"p":5,"s":8,"k":"b","x":0.572,"y":1.35},{"p":5,"s":8,"k":"b","x":0.716,"y":1.64},{"p":5,"s":8,"k":"b","x":0.86,"y":1.88},{"p":5,"s":8,"k":"b","x":1,"y":2.08},

{"p":6,"s":0,"k":"g","x":-1,"y":3.92},{"p":6,"s":0,"k":"g","x":1,"y":3.92},
{"p":6,"s":0,"k":"b","x":-1,"y":3.86},{"p":6,"s":0,"k":"b","x":1,"y":3.86},
{"p":6,"s":1,"k":"g","x":-1,"y":3.86},{"p":6,"s":1,"k":"g","x":0,"y":3.86},{"p":6,"s":1,"k":"g","x":0.1,"y":3.84},{"p":6,"s":1,"k":"g","x":0.17,"y":3.75},{"p":6,"s":1,"k":"g","x":0.216,"y":3.45},{"p":6,"s":1,"k":"g","x":0.24,"y":3.0},{"p":6,"s":1,"k":"g","x":0.26,"y":2.0},{"p":6,"s":1,"k":"g","x":0.27,"y":1.6},{"p":6,"s":1,"k":"g","x":0.29,"y":1.9},{"p":6,"s":1,"k":"g","x":0.31,"y":2.5},{"p":6,"s":1,"k":"g","x":0.36,"y":3.0},{"p":6,"s":1,"k":"g","x":0.456,"y":3.37},{"p":6,"s":1,"k":"g","x":0.55,"y":3.57},{"p":6,"s":1,"k":"g","x":0.79,"y":3.7},{"p":6,"s":1,"k":"g","x":1,"y":3.75},
{"p":6,"s":1,"k":"b","x":-1,"y":3.78},{"p":6,"s":1,"k":"b","x":0,"y":3.78},{"p":6,"s":1,"k":"b","x":0.1,"y":3.76},{"p":6,"s":1,"k":"b","x":0.17,"y":3.68},{"p":6,"s":1,"k":"b","x":0.216,"y":3.4},{"p":6,"s":1,"k":"b","x":0.24,"y":2.95},{"p":6,"s":1,"k":"b","x":0.26,"y":2.0},{"p":6,"s":1,"k":"b","x":0.27,"y":1.62},{"p":6,"s":1,"k":"b","x":0.29,"y":1.9},{"p":6,"s":1,"k":"b","x":0.31,"y":2.45},{"p":6,"s":1,"k":"b","x":0.36,"y":2.95},{"p":6,"s":1,"k":"b","x":0.456,"y":3.3},{"p":6,"s":1,"k":"b","x":0.55,"y":3.5},{"p":6,"s":1,"k":"b","x":0.79,"y":3.63},{"p":6,"s":1,"k":"b","x":1,"y":3.69},
{"p":6,"s":2,"k":"g","x":-1,"y":3.65},{"p":6,"s":2,"k":"g","x":0,"y":3.62},{"p":6,"s":2,"k":"g","x":0.07,"y":3.6},{"p":6,"s":2,"k":"g","x":0.19,"y":3.45},{"p":6,"s":2,"k":"g","x":0.23,"y":3.25},{"p":6,"s":2,"k":"g","x":0.245,"y":3.1},{"p":6,"s":2,"k":"g","x":0.26,"y":2.2},{"p":6,"s":2,"k":"g","x":0.276,"y":1.62},{"p":6,"s":2,"k":"g","x":0.31,"y":1.7},{"p":6,"s":2,"k":"g","x":0.36,"y":2.09},{"p":6,"s":2,"k":"g","x":0.456,"y":2.58},{"p":6,"s":2,"k":"g","x":0.55,"y":2.87},{"p":6,"s":2,"k":"g","x":0.67,"y":3.09},{"p":6,"s":2,"k":"g","x":0.79,"y":3.24},{"p":6,"s":2,"k":"g","x":1,"y":3.45},
{"p":6,"s":2,"k":"b","x":-1,"y":3.6},{"p":6,"s":2,"k":"b","x":0,"y":3.57},{"p":6,"s":2,"k":"b","x":0.07,"y":3.55},{"p":6,"s":2,"k":"b","x":0.19,"y":3.4},{"p":6,"s":2,"k":"b","x":0.23,"y":3.2},{"p":6,"s":2,"k":"b","x":0.245,"y":3.05},{"p":6,"s":2,"k":"b","x":0.26,"y":2.2},{"p":6,"s":2,"k":"b","x":0.276,"y":1.62},{"p":6,"s":2,"k":"b","x":0.31,"y":1.68},{"p":6,"s":2,"k":"b","x":0.36,"y":2.05},{"p":6,"s":2,"k":"b","x":0.456,"y":2.53},{"p":6,"s":2,"k":"b","x":0.55,"y":2.82},{"p":6,"s":2,"k":"b","x":0.67,"y":3.03},{"p":6,"s":2,"k":"b","x":0.79,"y":3.18},{"p":6,"s":2,"k":"b","x":1,"y":3.39},
{"p":6,"s":4,"k":"g","x":-1,"y":3.18},{"p":6,"s":4,"k":"g","x":-0.5,"y":3.22},{"p":6,"s":4,"k":"g","x":-0.1,"y":3.25},{"p":6,"s":4,"k":"g","x":0,"y":3.24},{"p":6,"s":4,"k":"g","x":0.12,"y":3.03},{"p":6,"s":4,"k":"g","x":0.19,"y":2.66},{"p":6,"s":4,"k":"g","x":0.24,"y":2.25},{"p":6,"s":4,"k":"g","x":0.29,"y":1.84},{"p":6,"s":4,"k":"g","x":0.336,"y":1.67},{"p":6,"s":4,"k":"g","x":0.384,"y":1.76},{"p":6,"s":4,"k":"g","x":0.456,"y":2.13},{"p":6,"s":4,"k":"g","x":0.55,"y":2.38},{"p":6,"s":4,"k":"g","x":0.7,"y":2.54},{"p":6,"s":4,"k":"g","x":0.85,"y":2.66},{"p":6,"s":4,"k":"g","x":1,"y":2.75},
{"p":6,"s":4,"k":"b","x":-1,"y":3.14},{"p":6,"s":4,"k":"b","x":-0.5,"y":3.18},{"p":6,"s":4,"k":"b","x":-0.1,"y":3.22},{"p":6,"s":4,"k":"b","x":0,"y":3.2},{"p":6,"s":4,"k":"b","x":0.12,"y":3.0},{"p":6,"s":4,"k":"b","x":0.19,"y":2.63},{"p":6,"s":4,"k":"b","x":0.24,"y":2.22},{"p":6,"s":4,"k":"b","x":0.29,"y":1.82},{"p":6,"s":4,"k":"b","x":0.336,"y":1.66},{"p":6,"s":4,"k":"b","x":0.384,"y":1.74},{"p":6,"s":4,"k":"b","x":0.456,"y":2.1},{"p":6,"s":4,"k":"b","x":0.55,"y":2.34},{"p":6,"s":4,"k":"b","x":0.7,"y":2.5},{"p":6,"s":4,"k":"b","x":0.85,"y":2.62},{"p":6,"s":4,"k":"b","x":1,"y":2.7},
{"p":6,"s":8,"k":"g","x":-1,"y":2.38},{"p":6,"s":8,"k":"g","x":-0.5,"y":2.42},{"p":6,"s":8,"k":"g","x":-0.1,"y":2.45},{"p":6,"s":8,"k":"g","x":0,"y":2.42},{"p":6,"s":8,"k":"g","x":0.19,"y":2.21},{"p":6,"s":8,"k":"g","x":0.31,"y":2.0},{"p":6,"s":8,"k":"g","x":0.43,"y":1.86},{"p":6,"s":8,"k":"g","x":0.55,"y":1.81},{"p":6,"s":8,"k":"g","x":0.75,"y":1.85},{"p":6,"s":8,"k":"g","x":1,"y":1.96},
{"p":6,"s":8,"k":"b","x":-1,"y":2.33},{"p":6,"s":8,"k":"b","x":-0.5,"y":2.38},{"p":6,"s":8,"k":"b","x":-0.1,"y":2.42},{"p":6,"s":8,"k":"b","x":0,"y":2.39},{"p":6,"s":8,"k":"b","x":0.19,"y":2.18},{"p":6,"s":8,"k":"b","x":0.31,"y":1.97},{"p":6,"s":8,"k":"b","x":0.43,"y":1.83},{"p":6,"s":8,"k":"b","x":0.55,"y":1.79},{"p":6,"s":8,"k":"b","x":0.75,"y":1.82},{"p":6,"s":8,"k":"b","x":1,"y":1.93}
]},
"columns":3,
"bounds":"flush",
"spacing":{"row":63,"column":70},
"resolve":{"scale":{"color":"independent","strokeDash":"independent"},"legend":{"color":"independent","strokeDash":"independent"}},
"concat":[
{"title":"E2_HR","width":277,"height":184,"transform":[{"filter":"datum.p == 1"}],"mark":{"type":"line","strokeWidth":1.4},
"encoding":{
"x":{"field":"x","type":"quantitative","scale":{"domain":[-1,1]},"axis":{"values":[-1,-0.5,0,0.5,1],"format":"~g","title":"cos θᵥ"}},
"y":{"field":"y","type":"quantitative","scale":{"domain":[1,9]},"axis":{"values":[1,2,3,4,5,6,7,8,9],"format":"d","labelPadding":16,"titlePadding":23,"titleFontSize":15,"title":"gₑₑ, ḡₑₑ / [10³² cm⁻³]"}},
"color":{"field":"s","type":"nominal","scale":{"domain":[0,1,2,4,8],"range":["#000000","#ee82ee","#b57af0","#2020f0","#3cd0d0"]},"legend":{"orient":"none","legendX":24,"legendY":119,"title":null,"symbolType":"M-1.25,0H1.25","symbolSize":121,"symbolStrokeWidth":1.6,"labelFontSize":12,"labelFont":"Liberation Serif","rowPadding":-1,"padding":0,"labelOffset":5,"labelExpr":"datum.value == 0 ? 't = 0s' : 't = ' + datum.value + ' × 10⁻⁷s'"}},
"strokeDash":{"field":"k","type":"nominal","scale":{"domain":["g","b"],"range":[[1,0],[4,3]]},"legend":null}}},
{"title":"E2_HR, E_low","width":277,"height":184,"transform":[{"filter":"datum.p == 2"}],"mark":{"type":"line","strokeWidth":1.4},
"encoding":{
"x":{"field":"x","type":"quantitative","scale":{"domain":[-1,1]},"axis":{"values":[-1,-0.5,0,0.5,1],"format":"~g","title":"cos θᵥ"}},
"y":{"field":"y","type":"quantitative","scale":{"domain":[0,4.5]},"axis":{"values":[0,1,2,3,4],"format":"d","labelPadding":10,"titlePadding":17,"title":"gₑₑ,low, ḡₑₑ,low/[10³²cm⁻³]"}},
"color":{"field":"s","type":"nominal","scale":{"domain":[0,1,2,4,8],"range":["#000000","#ee82ee","#b57af0","#2020f0","#3cd0d0"]},"legend":null},
"strokeDash":{"field":"k","type":"nominal","scale":{"domain":["g","b"],"range":[[1,0],[4,3]]},"legend":null}}},
{"title":"E2_HR, E_high","width":277,"height":184,"transform":[{"filter":"datum.p == 3"}],"mark":{"type":"line","strokeWidth":1.4},
"encoding":{
"x":{"field":"x","type":"quantitative","scale":{"domain":[-1,1]},"axis":{"values":[-1,-0.5,0,0.5,1],"format":"~g","title":"cos θᵥ"}},
"y":{"field":"y","type":"quantitative","scale":{"domain":[0,4.5]},"axis":{"values":[0,1,2,3,4],"format":"d","labelPadding":10,"titlePadding":17,"title":"gₑₑ,high, ḡₑₑ,high/[10³²cm⁻³]"}},
"color":{"field":"s","type":"nominal","scale":{"domain":[0,1,2,4,8],"range":["#000000","#ee82ee","#b57af0","#2020f0","#3cd0d0"]},"legend":null},
"strokeDash":{"field":"k","type":"nominal","scale":{"domain":["g","b"],"range":[[1,0],[4,3]]},"legend":null}}},
{"title":"E2_HR_f","width":277,"height":184,"transform":[{"filter":"datum.p == 4"}],"mark":{"type":"line","strokeWidth":1.4},
"encoding":{
"x":{"field":"x","type":"quantitative","scale":{"domain":[-1,1]},"axis":{"values":[-1,-0.5,0,0.5,1],"format":"~g","title":"cos θᵥ"}},
"y":{"field":"y","type":"quantitative","scale":{"domain":[1,9]},"axis":{"values":[1,2,3,4,5,6,7,8,9],"format":"d","labelPadding":16,"titlePadding":23,"titleFontSize":15,"title":"gₑₑ, ḡₑₑ / [10³² cm⁻³]"}},
"color":{"field":"s","type":"nominal","scale":{"domain":[0,1,2,4,8],"range":["#000000","#ee82ee","#b57af0","#2020f0","#3cd0d0"]},"legend":null},
"strokeDash":{"field":"k","type":"nominal","scale":{"domain":["g","b"],"range":[[1,0],[4,3]]},"legend":null}}},
{"title":"E2_HR_f, E_low","width":277,"height":184,"transform":[{"filter":"datum.p == 5"}],"mark":{"type":"line","strokeWidth":1.4},
"encoding":{
"x":{"field":"x","type":"quantitative","scale":{"domain":[-1,1]},"axis":{"values":[-1,-0.5,0,0.5,1],"format":"~g","title":"cos θᵥ"}},
"y":{"field":"y","type":"quantitative","scale":{"domain":[0,4.5]},"axis":{"values":[0,1,2,3,4],"format":"d","labelPadding":10,"titlePadding":17,"title":"gₑₑ,low, ḡₑₑ,low/[10³²cm⁻³]"}},
"color":{"field":"s","type":"nominal","scale":{"domain":[0,1,2,4,8],"range":["#000000","#ee82ee","#b57af0","#2020f0","#3cd0d0"]},"legend":null},
"strokeDash":{"field":"k","type":"nominal","scale":{"domain":["g","b"],"range":[[1,0],[4,3]]},"legend":null}}},
{"title":"E2_HR_f, E_high","width":277,"height":184,"transform":[{"filter":"datum.p == 6"}],"mark":{"type":"line","strokeWidth":1.4},
"encoding":{
"x":{"field":"x","type":"quantitative","scale":{"domain":[-1,1]},"axis":{"values":[-1,-0.5,0,0.5,1],"format":"~g","title":"cos θᵥ"}},
"y":{"field":"y","type":"quantitative","scale":{"domain":[0,4.5]},"axis":{"values":[0,1,2,3,4],"format":"d","labelPadding":10,"titlePadding":17,"title":"gₑₑ,high, ḡₑₑ,high/[10³²cm⁻³]"}},
"color":{"field":"s","type":"nominal","scale":{"domain":[0,1,2,4,8],"range":["#000000","#ee82ee","#b57af0","#2020f0","#3cd0d0"]},"legend":null},
"strokeDash":{"field":"k","type":"nominal","scale":{"domain":["g","b"],"range":[[1,0],[4,3]]},"legend":null}}}
]
}
